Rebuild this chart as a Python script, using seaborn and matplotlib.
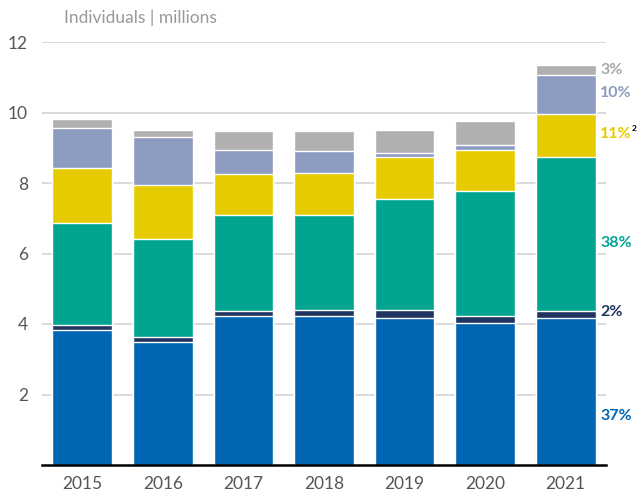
import numpy as np
import pandas as pd
import matplotlib.pyplot as plt
import seaborn as sns

# Values (millions of individuals)
years = ["2015", "2016", "2017", "2018", "2019", "2020", "2021"]
blue = [3.83, 3.49, 4.23, 4.23, 4.17, 4.03, 4.17]
navy = [0.13, 0.14, 0.14, 0.17, 0.23, 0.20, 0.20]
teal = [2.91, 2.77, 2.73, 2.70, 3.15, 3.55, 4.37]
yellow = [1.56, 1.55, 1.16, 1.19, 1.19, 1.16, 1.23]
lavender = [1.14, 1.36, 0.68, 0.63, 0.12, 0.15, 1.10]
gray = [0.25, 0.20, 0.54, 0.56, 0.65, 0.68, 0.29]

layer_names = ["blue", "navy", "teal", "yellow", "lavender", "gray"]
layer_values = [blue, navy, teal, yellow, lavender, gray]
layer_colors = ["#0066b3", "#1f3461", "#00a491", "#e5cc00", "#8c9bbf", "#b0b0b0"]
share_labels = ["37%", "2%", "38%", "11%", "10%", "3%"]
label_y = [1.4, 4.35, 6.3, 9.4, 10.55, 11.2]

df = pd.DataFrame(dict(zip(layer_names, layer_values)), index=years)
cum = df.cumsum(axis=1)

sns.set_style("white")
plt.rcParams["font.family"] = ["Lato", "DejaVu Sans"]

fig = plt.figure(figsize=(6.37, 4.95), dpi=100)
ax = fig.add_axes([42 / 637, 30 / 495, 564 / 637, 423 / 495])

# Stacked bars: draw cumulative totals from the top layer down
for name, color in reversed(list(zip(layer_names, layer_colors))):
    sns.barplot(x=years, y=cum[name].values, color=color, width=0.74,
                saturation=1, ax=ax, zorder=3)

ax.set_ylim(0, 12)
ax.set_xlim(-0.5, 6.5)
ax.set_yticks([2, 4, 6, 8, 10, 12])
ax.yaxis.grid(True, color="#d4d4d4", linewidth=1.2, zorder=0)
ax.set_axisbelow(True)
for s in ["top", "right", "left"]:
    ax.spines[s].set_visible(False)
ax.spines["bottom"].set_color("black")
ax.spines["bottom"].set_linewidth(1.8)
ax.spines["bottom"].set_zorder(5)
ax.tick_params(axis="both", length=0, labelsize=12.5, labelcolor="#555555")
ax.tick_params(axis="y", pad=10)
ax.tick_params(axis="x", pad=8)
ax.set_xlabel("")
ax.set_ylabel("")

fig.text(64 / 637, 1 - 18 / 495, "Individuals | millions", fontsize=12.5,
         color="#999999", va="center", ha="left")

# Share labels on the right of the 2021 bar
for txt, yv, color in zip(share_labels, label_y, layer_colors):
    c = "#a8a8a8" if txt == "3%" else color
    t = ax.text(6.43, yv, txt, color=c, fontsize=11.5, fontweight="bold",
                va="center", ha="left", clip_on=False)
    if txt == "11%":
        ax.annotate("2", xy=(1, 1), xycoords=t, xytext=(0, 1.5),
                    textcoords="offset points", color="black", fontsize=6,
                    fontweight="bold", va="top", ha="left",
                    annotation_clip=False)

fig.savefig("out.png", dpi=100)
